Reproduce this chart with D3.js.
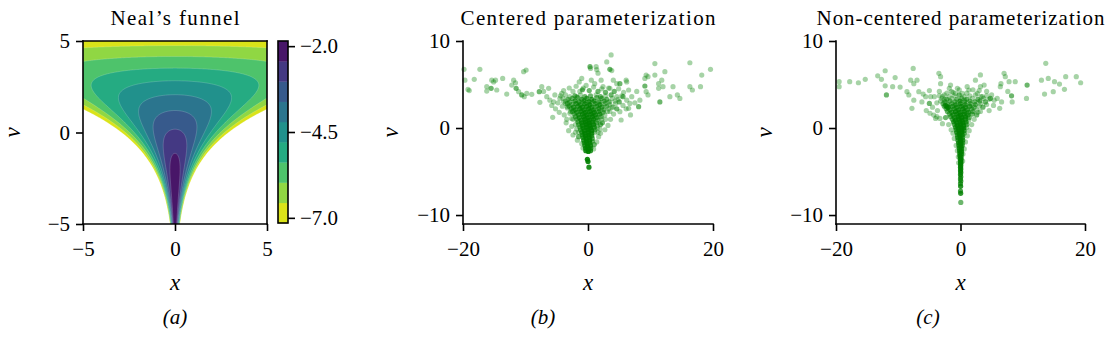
<!DOCTYPE html>
<html>
<head>
<meta charset="utf-8">
<script src="https://cdn.jsdelivr.net/npm/d3@7"></script>
</head>
<body style="margin:0">
<svg id="fig" width="1107" height="341"></svg>
<script>
// ---- Neal's funnel: v ~ N(0, 3^2), x | v ~ N(0, exp(v)) ----
const funnelSigmaV = 3;
const funnelDomainX = [-5, 5];
const funnelDomainV = [-5, 5];
// filled-contour boundaries of the log density
const contourLevels = [-7.15, -6.561, -5.972, -5.383, -4.794, -4.206, -3.617, -3.028, -2.439, -1.85];
const colorbarTicks = [-2.0, -4.5, -7.0];

// ---- posterior samples [x, v, repeats] ----
const centeredSamples = [
  // sparse wings
  [-19.84,6.74,1],[-19.7,5.5,1],[-19.2,4.44,1],[-19.0,4.3,1],[-17.3,6.74,1],[-18.2,5.6,1],
  [-16.2,4.75,1],[-16.2,4.25,1],[-15.4,5.5,1],[-15.1,5.3,1],[-14.8,5.5,1],[-15.5,4.56,2],
  [-14.6,4.37,1],[-13.65,5.7,1],[-13.0,3.9,1],[-12.2,4.94,1],[-11.9,5.5,1],[-11.6,5.2,1],
  [-11.5,4.56,2],[-11.1,4.18,1],[-10.6,3.8,2],[-10.3,6.47,1],[-9.9,6.66,1],[-10.2,3.6,1],
  [-9.8,3.98,1],[-9.0,3.87,1],[-7.8,4.18,2],[-7.4,4.75,1],[-7.1,4.2,1],[-6.6,3.6,1],
  [-6.3,4.56,1],[-7.7,2.95,1],[-6.1,3.2,1],[-5.65,1.23,1],[-5.5,3.0,1],[-5.3,3.8,1],
  [-4.5,3.41,1],[-4.2,3.98,1],[-3.9,3.02,1],[-3.6,2.83,1],[-3.3,2.45,1],[-2.9,1.69,1],
  [-3.4,1.0,1],[-2.6,1.1,1],[-2.3,2.07,1],[-1.8,3.6,1],[-1.4,5.3,1],[-1.3,4.2,1],
  [-1.0,5.7,1],[-0.75,4.6,1],[0.32,7.05,2],[0.4,6.85,1],[0.53,5.5,1],[1.07,5.1,1],
  [1.3,7.05,1],[1.4,6.7,1],[1.6,6.3,1],[2.1,5.5,1],[2.4,4.75,1],[3.0,7.6,1],[3.7,8.4,1],
  [3.5,6.75,2],[3.8,6.6,1],[4.05,5.5,1],[3.5,4.56,1],[4.6,5.1,1],[5.1,5.1,2],[6.1,5.5,1],
  [6.2,5.3,1],[6.5,4.37,1],[5.6,3.6,2],[6.2,3.2,1],[6.7,2.83,1],[5.1,1.88,1],[5.3,0.92,1],
  [7.8,4.2,1],[8.1,2.45,2],[6.5,2.26,1],[9.1,5.7,1],[9.3,6.08,1],[9.6,5.9,1],[9.1,4.83,2],
  [9.3,4.18,1],[9.6,3.8,1],[8.3,3.2,1],[10.7,7.4,1],[10.7,6.08,1],[11.3,5.1,1],[11.3,4.56,1],
  [11.5,3.0,2],[11.8,5.5,1],[12.0,4.75,1],[12.3,6.47,1],[13.1,3.6,1],[13.6,4.75,1],
  [14.3,3.8,1],[14.7,3.4,1],[16.3,7.5,1],[16.3,4.75,1],[16.7,4.37,1],[18.0,4.75,1],
  [18.2,6.08,1],[19.6,6.74,1],
  // halo around the body
  [-5.8,2.6,1],[-5.2,2.2,1],[-4.8,2.9,1],[-4.6,1.8,1],[-4.1,2.5,1],[-3.8,1.5,1],[-3.5,0.6,1],
  [-3.1,-0.3,1],[-2.6,0.2,1],[-2.4,-0.8,1],[-2.0,-0.5,1],[-1.7,-1.4,1],[-1.5,-1.0,2],
  [-3.9,4.3,1],[-3.0,4.6,1],[-2.4,4.2,1],[-1.9,4.8,1],[-0.9,4.4,2],[-0.3,4.9,1],[0.2,4.3,2],
  [0.9,4.7,1],[1.6,4.2,2],[2.2,4.5,1],[2.8,4.1,2],[3.3,4.6,1],[4.2,4.2,2],[4.9,4.5,1],[5.7,4.1,1],
  [5.0,3.0,2],[5.6,2.6,1],[6.1,2.2,1],[4.6,2.2,2],[4.1,1.6,1],[3.6,1.0,1],[3.2,0.3,1],[2.7,-0.2,1],
  [2.3,0.6,2],[2.0,-0.6,1],[1.7,-1.0,1],[1.4,-1.6,1],[1.0,-1.9,2],[0.9,-2.4,1],[-0.8,-2.3,1],
  [-1.0,-1.8,1],[7.0,3.6,1],[7.5,2.9,1],[6.8,1.5,1],
  [-2.4,1.0,1],[2.8,1.0,1],[-2.0,0.4,1],[2.0,0.4,2],[-1.5,-0.5,1],[1.6,-0.5,1],[-2.8,1.9,1],
  [3.5,1.9,1],[-3.3,2.3,1],[4.0,2.4,1],[-1.8,-0.1,1],[1.9,-0.1,1],
  // dense body
  [-4.4,3.7,1],[-3.6,3.8,1],[-2.9,3.6,1],[-2.1,3.7,2],[-1.2,3.8,1],[-0.5,3.6,2],[0.4,3.7,2],
  [1.3,3.8,1],[2.0,3.6,2],[2.8,3.7,1],[3.7,3.8,2],[4.6,3.6,1],[5.4,3.7,1],
  [-4.0,3.4,1],[-3.2,3.3,2],[-2.5,3.4,2],[-1.7,3.5,2],[-1.0,3.3,3],[-0.2,3.4,3],[0.6,3.3,3],
  [1.4,3.5,2],[2.2,3.4,2],[3.0,3.3,2],[3.9,3.4,1],[4.8,3.3,1],
  [-3.6,3.1,1],[-2.9,3.0,2],[-2.1,3.1,3],[-1.4,3.0,3],[-0.6,3.1,3],[0.2,3.0,4],[1.0,3.1,3],
  [1.8,3.0,3],[2.6,3.1,2],[3.4,3.0,2],[4.3,3.1,1],
  [-3.3,2.8,2],[-2.6,2.7,2],[-1.9,2.8,3],[-1.2,2.7,3],[-0.5,2.8,4],[0.3,2.7,4],[1.1,2.8,3],
  [1.9,2.7,3],[2.7,2.8,2],[3.5,2.7,1],[4.4,2.8,1],
  [-3.0,2.5,2],[-2.3,2.4,3],[-1.6,2.5,3],[-0.9,2.4,4],[-0.2,2.5,4],[0.6,2.4,4],[1.4,2.5,3],
  [2.2,2.4,3],[3.0,2.5,2],[3.8,2.4,1],
  [-2.7,2.2,2],[-2.0,2.1,3],[-1.3,2.2,4],[-0.6,2.1,4],[0.1,2.2,5],[0.9,2.1,4],[1.7,2.2,3],
  [2.5,2.1,2],[3.3,2.2,1],
  [-2.5,1.9,2],[-1.8,1.8,3],[-1.1,1.9,4],[-0.4,1.8,5],[0.3,1.9,5],[1.0,1.8,4],[1.7,1.9,3],
  [2.4,1.8,2],[3.1,1.9,1],
  [-2.2,1.6,2],[-1.5,1.5,3],[-0.9,1.6,4],[-0.2,1.5,5],[0.5,1.6,5],[1.2,1.5,4],[1.9,1.6,3],[2.7,1.5,1],
  [-2.0,1.3,2],[-1.4,1.2,3],[-0.7,1.3,5],[0.0,1.2,5],[0.7,1.3,5],[1.4,1.2,3],[2.1,1.3,2],
  [-1.8,1.0,2],[-1.1,0.9,4],[-0.5,1.0,5],[0.2,0.9,6],[0.9,1.0,4],[1.6,0.9,2],[2.2,1.0,1],
  [-1.6,0.7,2],[-1.0,0.6,4],[-0.4,0.7,6],[0.2,0.6,6],[0.8,0.7,4],[1.4,0.6,2],
  [-1.5,0.4,2],[-0.9,0.3,4],[-0.3,0.4,6],[0.3,0.3,6],[0.9,0.4,4],[1.5,0.3,1],
  [-1.3,0.1,2],[-0.8,0.0,4],[-0.2,0.1,6],[0.4,0.0,6],[1.0,0.1,3],[1.5,0.0,1],
  [-1.2,-0.2,2],[-0.6,-0.3,5],[0.0,-0.2,6],[0.6,-0.3,5],[1.1,-0.2,2],
  [-1.0,-0.5,3],[-0.5,-0.6,5],[0.1,-0.5,6],[0.6,-0.6,4],[1.1,-0.5,1],
  [-0.9,-0.8,3],[-0.4,-0.9,5],[0.15,-0.8,6],[0.6,-0.9,3],
  [-0.8,-1.1,3],[-0.3,-1.2,5],[0.2,-1.1,5],[0.7,-1.2,2],
  [-0.7,-1.4,3],[-0.25,-1.5,5],[0.25,-1.4,5],[0.7,-1.5,2],
  [-0.6,-1.7,3],[-0.15,-1.8,5],[0.3,-1.7,4],
  [-0.5,-2.0,3],[-0.05,-2.1,5],[0.4,-2.0,4],
  [-0.4,-2.3,4],[0.05,-2.4,5],[0.45,-2.3,3],
  [-0.35,-2.6,5],[0.05,-2.7,6],[0.4,-2.6,4],
  [-0.1,-3.6,6],[0.0,-3.85,6],[0.15,-4.5,5]
];

const nonCenteredSamples = [
  // sparse wings
  [-19.5,5.32,1],[-19.5,4.75,1],[-17.8,5.32,1],[-16.4,5.2,1],[-15.3,5.6,1],[-13.3,6.0,1],
  [-12.7,5.6,1],[-12.1,6.58,1],[-11.9,3.8,2],[-12.1,4.85,1],[-10.9,4.75,1],[-10.5,5.8,1],
  [-9.7,4.7,1],[-8.6,4.18,1],[-8.3,3.8,1],[-7.6,6.85,1],[-8.0,5.5,1],[-7.8,2.26,1],
  [-7.5,5.1,1],[-6.99,5.5,1],[-6.7,4.18,1],[-7.5,3.2,1],[-6.0,3.9,1],[-5.6,3.6,1],
  [-5.0,2.83,2],[-4.8,3.6,1],[-4.3,1.49,1],[-4.0,1.1,1],[-3.8,1.3,1],[-3.47,6.28,1],
  [-3.2,5.9,1],[-3.2,5.1,1],[-2.9,3.6,1],[-1.8,4.56,1],[-1.6,4.94,1],[-1.45,4.18,1],
  [-0.8,3.98,1],[-0.5,4.56,1],[0.27,3.98,1],[0.64,3.2,1],[1.07,4.75,1],[1.34,4.37,1],
  [2.4,5.5,1],[3.2,6.1,1],[3.2,4.75,1],[2.7,3.98,1],[3.5,3.6,1],[3.8,4.94,1],[4.0,3.0,1],
  [4.8,3.4,2],[5.4,3.2,1],[5.9,3.4,1],[6.3,2.26,1],[6.4,4.75,1],[6.5,5.1,1],[7.0,6.28,1],
  [7.2,5.9,1],[7.8,5.32,1],[8.2,3.7,2],[8.3,3.0,1],[8.8,5.32,1],[10.7,4.94,2],[10.6,3.4,1],
  [13.0,5.5,1],[13.5,3.9,1],[13.7,7.43,1],[14.1,5.7,1],[14.9,4.18,1],[15.1,5.32,1],
  [15.9,5.05,1],[16.7,4.45,1],[16.9,5.9,1],[18.6,5.9,1],[19.3,5.2,1],
  [-2.2,2.5,3],[-2.4,2.6,2],[-2.0,2.35,2],
  // halo around the body
  [-5.5,2.0,1],[-4.9,1.7,1],[-4.5,2.4,1],[-3.7,2.0,1],[-3.3,1.1,1],[-2.9,0.5,1],[-2.4,1.2,2],
  [-2.6,3.3,1],[-3.8,2.9,1],[-1.9,0.4,1],[-1.5,-0.2,1],[-1.2,-0.6,1],[-1.0,-1.2,1],[-0.7,-2.0,1],
  [-0.5,-2.6,1],[-0.35,-3.3,1],[-0.3,-4.0,1],[0.35,-3.8,1],[0.4,-3.0,1],[0.6,-2.4,1],[0.8,-1.6,1],
  [1.1,-0.9,1],[1.4,-0.3,1],[1.8,0.4,1],[2.2,1.0,1],[2.6,1.5,2],[3.2,1.9,1],[3.6,2.4,2],[4.2,2.7,1],
  [4.6,2.0,1],[5.3,2.6,1],[5.0,3.8,1],[4.2,4.2,1],[3.0,4.3,1],[2.0,4.4,1],[1.0,4.0,1],[-0.2,4.4,1],
  [-1.2,4.1,1],[-2.2,4.0,1],[-3.4,4.2,1],[-4.2,3.6,1],[-5.0,4.3,1],[-6.2,3.0,1],[6.6,3.0,1],[7.6,4.2,1],
  // dense body and narrow neck
  [-3.4,3.7,1],[-2.6,3.8,1],[-1.8,3.6,1],[-1.0,3.7,1],[-0.2,3.8,2],[0.6,3.6,1],[1.5,3.7,1],
  [2.4,3.8,1],[3.3,3.6,1],[4.2,3.7,1],
  [-3.0,3.4,1],[-2.2,3.3,2],[-1.4,3.4,1],[-0.6,3.3,2],[0.2,3.4,2],[1.0,3.3,2],[1.9,3.4,1],
  [2.8,3.3,2],[3.7,3.4,1],[4.6,3.3,1],
  [-3.2,3.1,1],[-2.5,3.0,2],[-1.7,3.1,2],[-0.9,3.0,2],[-0.1,3.1,3],[0.7,3.0,2],[1.5,3.1,2],
  [2.3,3.0,2],[3.1,3.1,2],[4.0,3.0,1],
  [-2.8,2.8,2],[-2.1,2.7,2],[-1.4,2.8,2],[-0.7,2.7,3],[0.0,2.8,3],[0.8,2.7,3],[1.6,2.8,2],
  [2.4,2.7,2],[3.2,2.8,1],
  [-2.6,2.5,2],[-2.0,2.4,3],[-1.3,2.5,3],[-0.6,2.4,3],[0.1,2.5,4],[0.8,2.4,3],[1.5,2.5,3],
  [2.2,2.4,2],[3.0,2.5,1],
  [-2.3,2.2,2],[-1.7,2.1,3],[-1.0,2.2,3],[-0.3,2.1,4],[0.4,2.2,4],[1.1,2.1,3],[1.8,2.2,2],[2.6,2.1,1],
  [-2.1,1.9,2],[-1.4,1.8,3],[-0.8,1.9,4],[-0.1,1.8,4],[0.6,1.9,4],[1.3,1.8,3],[2.0,1.9,2],[2.8,1.8,1],
  [-1.8,1.6,2],[-1.2,1.5,3],[-0.6,1.6,4],[0.0,1.5,5],[0.6,1.6,4],[1.2,1.5,3],[1.9,1.6,2],
  [-1.6,1.3,2],[-1.0,1.2,3],[-0.4,1.3,5],[0.2,1.2,5],[0.8,1.3,4],[1.4,1.2,2],
  [-1.3,1.0,2],[-0.8,0.9,4],[-0.3,1.0,5],[0.25,0.9,5],[0.8,1.0,3],[1.3,0.9,1],
  [-1.1,0.7,3],[-0.6,0.6,4],[-0.1,0.7,5],[0.4,0.6,5],[0.9,0.7,3],
  [-1.0,0.4,2],[-0.5,0.3,5],[0.0,0.4,6],[0.5,0.3,4],[1.0,0.4,2],
  [-0.8,0.1,3],[-0.35,0.0,5],[0.1,0.1,6],[0.55,0.0,4],[1.0,0.1,1],
  [-0.7,-0.2,3],[-0.25,-0.3,5],[0.2,-0.2,5],[0.6,-0.3,3],
  [-0.6,-0.5,3],[-0.2,-0.6,5],[0.2,-0.5,5],[0.6,-0.6,2],
  [-0.5,-0.8,3],[-0.1,-0.9,6],[0.3,-0.8,4],
  [-0.45,-1.1,3],[-0.05,-1.2,6],[0.35,-1.1,3],
  [-0.4,-1.4,3],[0.0,-1.5,6],[0.35,-1.4,3],
  [-0.3,-1.7,4],[0.05,-1.8,6],[0.35,-1.7,2],
  [-0.25,-2.0,4],[0.1,-2.1,5],[0.3,-2.0,2],
  [-0.2,-2.3,4],[0.15,-2.4,5],
  [-0.15,-2.6,4],[0.15,-2.7,5],
  [-0.1,-2.9,5],[0.15,-3.0,4],
  [-0.1,-3.2,5],[0.1,-3.3,4],
  [-0.05,-3.5,5],[0.1,-3.6,4],
  [0.0,-3.8,5],[0.1,-3.95,3],
  [0.0,-4.1,5],[0.05,-4.3,4],
  [0.0,-4.5,5],[0.05,-4.7,4],
  [0.0,-4.9,4],[0.05,-5.1,4],
  [0.0,-5.35,4],[0.05,-5.6,3],
  [0.0,-5.85,3],[0.05,-6.1,3],
  [0.0,-6.4,3],[0.02,-6.7,4],
  [0.0,-7.25,3],[0.03,-7.5,4],
  [0.05,-8.55,2]
];

const scatterDomainX = [-20, 20];
const scatterDomainV = [-11.03, 10];
const scatterTicksX = [-20, 0, 20];
const scatterTicksV = [-10, 0, 10];
const funnelTicks = [-5, 0, 5];

const panelTitles = ["Neal\u2019s funnel", "Centered parameterization", "Non-centered parameterization"];
const panelCaptions = ["(a)", "(b)", "(c)"];

// ---------------------------------------------------------------
const svg = d3.select("#fig");
const FONT = 21;
const TOP = 41, BOTTOM = 224;
const fmt = d => (d < 0 ? "\u2212" : "") + Math.abs(d);

// serif face on every text element (attribute and inline style)
function styleText(sel, size, italic) {
  sel.attr("font-family", "Liberation Serif").attr("font-size", size)
    .style("font-family", '"Liberation Serif"').style("font-size", size + "px")
    .attr("fill", "#000");
  if (italic) sel.style("font-style", "italic");
  return sel;
}

function drawAxes(g, xs, ys, xticks, yticks, box) {
  const xAxis = d3.axisBottom(xs).tickValues(xticks).tickSize(7).tickPadding(6).tickFormat(fmt);
  const yAxis = d3.axisLeft(ys).tickValues(yticks).tickSize(7).tickPadding(6).tickFormat(fmt);
  const gx = g.append("g").attr("transform", `translate(0,${BOTTOM})`).call(xAxis);
  const gy = g.append("g").attr("transform", `translate(${xs.range()[0]},0)`).call(yAxis);
  [gx, gy].forEach(a => {
    a.attr("font-family", "Liberation Serif").attr("font-size", FONT);
    a.select(".domain").remove();
    a.selectAll(".tick line").attr("stroke", "#000").attr("stroke-width", 1.6);
    styleText(a.selectAll(".tick text"), FONT, false);
  });
  gx.selectAll(".tick text").attr("dy", "0.9em");
  const [x0, x1] = xs.range();
  g.append("line").attr("x1", x0 - 0.8).attr("x2", x1 + 0.8).attr("y1", BOTTOM).attr("y2", BOTTOM)
    .attr("stroke", "#000").attr("stroke-width", 1.6);
  g.append("line").attr("x1", x0).attr("x2", x0).attr("y1", TOP - 0.8).attr("y2", BOTTOM + 0.8)
    .attr("stroke", "#000").attr("stroke-width", 1.6);
  if (box) {
    g.append("line").attr("x1", x0 - 0.8).attr("x2", x1 + 0.8).attr("y1", TOP).attr("y2", TOP)
      .attr("stroke", "#000").attr("stroke-width", 1.6);
    g.append("line").attr("x1", x1).attr("x2", x1).attr("y1", TOP - 0.8).attr("y2", BOTTOM + 0.8)
      .attr("stroke", "#000").attr("stroke-width", 1.6);
  }
}

function labels(g, xs, title, titleWidth, caption, ylabelX, captionX) {
  const cx = (xs.range()[0] + xs.range()[1]) / 2;
  styleText(g.append("text"), FONT, false).attr("x", cx).attr("y", 25).attr("text-anchor", "middle")
    .attr("textLength", titleWidth).attr("lengthAdjust", "spacing").text(title);
  styleText(g.append("text"), FONT + 2, true).attr("x", cx).attr("y", 290)
    .attr("text-anchor", "middle").text("x");
  styleText(g.append("text"), FONT + 2, true)
    .attr("transform", `translate(${ylabelX},${(TOP + BOTTOM) / 2}) rotate(-90)`)
    .attr("text-anchor", "middle").text("v");
  styleText(g.append("text"), FONT, true).attr("x", captionX).attr("y", 324)
    .attr("text-anchor", "middle").text(caption);
}

// ---------------- panel (a): contour of the funnel log density ----------------
{
  const g = svg.append("g");
  const xs = d3.scaleLinear().domain(funnelDomainX).range([83, 267]);
  const ys = d3.scaleLinear().domain(funnelDomainV).range([BOTTOM, TOP]);

  const n = 241, m = 241;
  const logDensity = (x, v) =>
    -0.5 * (v / funnelSigmaV) ** 2 - Math.log(funnelSigmaV * Math.sqrt(2 * Math.PI))
    - 0.5 * x * x * Math.exp(-v) - 0.5 * v - 0.5 * Math.log(2 * Math.PI);
  const values = new Array(n * m);
  for (let j = 0; j < m; j++) {
    const v = funnelDomainV[1] - (funnelDomainV[1] - funnelDomainV[0]) * j / (m - 1);
    for (let i = 0; i < n; i++) {
      const x = funnelDomainX[0] + (funnelDomainX[1] - funnelDomainX[0]) * i / (n - 1);
      values[j * n + i] = logDensity(x, v);
    }
  }
  const bands = contourLevels.length - 1;
  const color = i => d3.interpolateViridis(1 - (i + 0.5) / bands);
  const contours = d3.contours().size([n, m]).thresholds(contourLevels.slice(0, bands))(values);

  const gx = d3.scaleLinear().domain([0.5, n - 0.5]).range(xs.range());
  const gy = d3.scaleLinear().domain([0.5, m - 0.5]).range([TOP, BOTTOM]);
  const path = d3.geoPath(d3.geoTransform({
    point(px, py) { this.stream.point(gx(px), gy(py)); }
  }));

  svg.append("defs").append("clipPath").attr("id", "clipA")
    .append("rect").attr("x", 83).attr("y", TOP).attr("width", 184).attr("height", BOTTOM - TOP);
  const cg = g.append("g").attr("clip-path", "url(#clipA)");
  cg.selectAll("path").data(contours).join("path")
    .attr("d", path)
    .attr("fill", (d, i) => color(i))
    .attr("stroke", "rgba(255,255,255,0.35)")
    .attr("stroke-width", 0.5);

  drawAxes(g, xs, ys, funnelTicks, funnelTicks, true);
  labels(g, xs, panelTitles[0], 129, panelCaptions[0], 20, 175);

  // colorbar
  const cb = svg.append("g");
  const cbx = 278, cbw = 10;
  const cys = d3.scaleLinear().domain([contourLevels[0], contourLevels[bands]]).range([223, TOP]);
  cb.selectAll("rect.band").data(d3.range(bands)).join("rect")
    .attr("x", cbx).attr("width", cbw)
    .attr("y", i => cys(contourLevels[i + 1]))
    .attr("height", i => cys(contourLevels[i]) - cys(contourLevels[i + 1]) + 0.3)
    .attr("fill", i => color(i));
  cb.append("rect").attr("x", cbx).attr("y", TOP).attr("width", cbw).attr("height", 223 - TOP)
    .attr("fill", "none").attr("stroke", "#000").attr("stroke-width", 1.6);
  const cAxis = d3.axisRight(cys).tickValues(colorbarTicks).tickSize(7).tickPadding(5)
    .tickFormat(d => (d < 0 ? "\u2212" : "") + Math.abs(d).toFixed(1));
  const ca = cb.append("g").attr("transform", `translate(${cbx + cbw},0)`).call(cAxis);
  ca.attr("font-family", "Liberation Serif").attr("font-size", FONT);
  ca.select(".domain").remove();
  ca.selectAll(".tick line").attr("stroke", "#000").attr("stroke-width", 1.6);
  styleText(ca.selectAll(".tick text"), FONT, false);
}

// ---------------- panels (b), (c): posterior samples ----------------
function scatterPanel(samples, x0, x1, title, titleWidth, caption, ylabelX, captionX) {
  const g = svg.append("g");
  const xs = d3.scaleLinear().domain(scatterDomainX).range([x0, x1]);
  const ys = d3.scaleLinear().domain(scatterDomainV).range([BOTTOM, TOP]);
  const alpha = 0.35;
  g.append("g").selectAll("circle").data(samples).join("circle")
    .attr("cx", d => xs(d[0]))
    .attr("cy", d => ys(d[1]))
    .attr("r", 2.6)
    .attr("fill", "#008000")
    .attr("fill-opacity", d => 1 - Math.pow(1 - alpha, d[2]));
  drawAxes(g, xs, ys, scatterTicksX, scatterTicksV, false);
  labels(g, xs, title, titleWidth, caption, ylabelX, captionX);
}

scatterPanel(centeredSamples, 463, 713, panelTitles[1], 255, panelCaptions[1], 398, 543);
scatterPanel(nonCenteredSamples, 836, 1085, panelTitles[2], 288, panelCaptions[2], 772, 928);
</script>
</body>
</html>
